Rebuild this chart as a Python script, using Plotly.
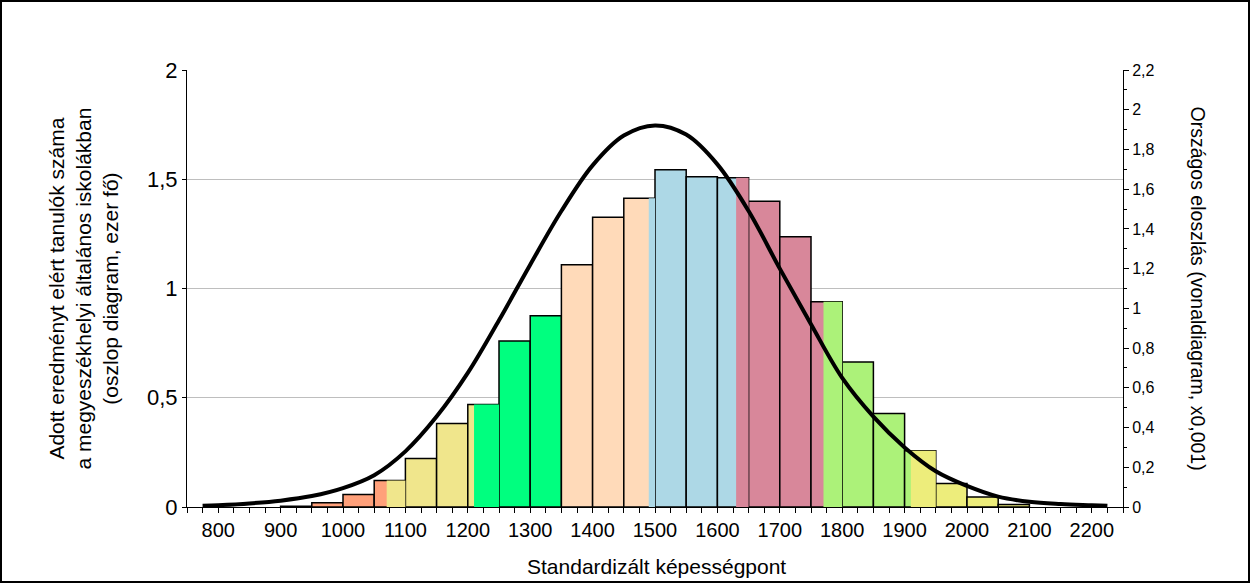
import plotly.graph_objects as go

# 50 pontos sávok bal széle és a tanulók száma (ezer fő)
sav_kezdet = [900, 950, 1000, 1050, 1100, 1150, 1200, 1250, 1300, 1350, 1400, 1450,
              1500, 1550, 1600, 1650, 1700, 1750, 1800, 1850, 1900, 1950, 2000, 2050]
tanulok = [0.004, 0.020, 0.057, 0.121, 0.222, 0.382, 0.469, 0.760, 0.875, 1.109, 1.326, 1.413,
           1.544, 1.512, 1.507, 1.399, 1.237, 0.939, 0.664, 0.428, 0.257, 0.107, 0.046, 0.011]
sav_szel = 50

# képességszintek határai
szint_hatar = [1070, 1210, 1350, 1490, 1630, 1770, 1910]

# országos eloszlás (x0,001)
eloszlas_x = [775, 800, 850, 900, 950, 1000, 1050, 1100, 1150, 1200, 1250, 1300, 1350, 1400,
              1450, 1500, 1550, 1600, 1650, 1700, 1750, 1800, 1850, 1900, 1950, 2000, 2050,
              2100, 2150, 2200, 2225]
eloszlas_y = [0.006, 0.009, 0.018, 0.032, 0.055, 0.095, 0.160, 0.280, 0.455, 0.675, 0.940,
              1.220, 1.490, 1.720, 1.870, 1.921, 1.875, 1.725, 1.490, 1.200, 0.920, 0.650,
              0.455, 0.300, 0.180, 0.106, 0.052, 0.026, 0.015, 0.009, 0.006]

# szintek színei
szint_szin = ["#FFA07A", "#F0E68C", "#00FF7F", "#FFDAB9", "#ADD8E6", "#D8879A", "#ACF279", "#EDED7B"]

FONT = "Arial, 'Liberation Sans', sans-serif"

# === oszlopok ===
bal_szin = []
resz_x, resz_y, resz_w, resz_szin = [], [], [], []
for s, h in zip(sav_kezdet, tanulok):
    szint = sum(1 for b in szint_hatar if b <= s)
    bal_szin.append(szint_szin[szint])
    for b in szint_hatar:
        if s < b < s + sav_szel:
            resz_x.append((b + s + sav_szel) / 2)
            resz_w.append(s + sav_szel - b)
            resz_y.append(h)
            resz_szin.append(szint_szin[szint + 1])

fig = go.Figure()
fig.add_trace(go.Bar(
    x=[s + sav_szel / 2 for s in sav_kezdet], y=tanulok, width=sav_szel,
    marker=dict(color=bal_szin, line=dict(color="black", width=1.5)),
    hoverinfo="skip", showlegend=False))
fig.add_trace(go.Bar(
    x=resz_x, y=resz_y, width=resz_w,
    marker=dict(color=resz_szin, line=dict(width=0)),
    hoverinfo="skip", showlegend=False))

# === eloszlás görbe ===
fig.add_trace(go.Scatter(
    x=eloszlas_x, y=eloszlas_y, yaxis="y2", mode="lines",
    line=dict(color="black", width=4, shape="spline", smoothing=1),
    hoverinfo="skip", showlegend=False))

W, H = 1250, 583
ml, mr, mt, mb = 187, 127, 70, 76
pw, ph = W - ml - mr, H - mt - mb

fig.update_layout(
    width=W, height=H,
    margin=dict(l=ml, r=mr, t=mt, b=mb),
    paper_bgcolor="white", plot_bgcolor="white",
    barmode="overlay",
    separators=", ",
    font=dict(family=FONT, color="black"),
    xaxis=dict(
        range=[750, 2250], tick0=800, dtick=100,
        ticks="outside", ticklen=5, tickcolor="black",
        showline=True, linecolor="black", linewidth=1,
        showgrid=False, zeroline=False,
        tickfont=dict(size=20),
        minor=dict(tick0=750, dtick=25, ticks="outside", ticklen=5, tickcolor="black"),
    ),
    yaxis=dict(
        range=[0, 2], dtick=0.5,
        ticks="outside", ticklen=4, tickcolor="black",
        showline=True, linecolor="black", linewidth=1,
        showgrid=True, gridcolor="#BEBEBE", gridwidth=1, zeroline=False,
        tickfont=dict(size=22),
    ),
    yaxis2=dict(
        range=[0, 2.2], dtick=0.2, overlaying="y", side="right",
        ticks="outside", ticklen=5, tickcolor="black",
        showline=True, linecolor="black", linewidth=1,
        showgrid=False, zeroline=False,
        tickfont=dict(size=16),
        minor=dict(dtick=0.1, ticks="outside", ticklen=3, tickcolor="black"),
    ),
    annotations=[
        dict(text="Adott eredményt elért tanulók száma<br>a megyeszékhelyi általános iskolákban<br>(oszlop diagram, ezer fő)",
             xref="paper", yref="paper", x=(83 - ml) / pw, y=0.5, textangle=-90,
             xanchor="center", yanchor="middle", showarrow=False, font=dict(size=21)),
        dict(text="Országos eloszlás (vonaldiagram, x0,001)",
             xref="paper", yref="paper", x=(1198 - ml) / pw, y=0.5, textangle=90,
             xanchor="center", yanchor="middle", showarrow=False, font=dict(size=19.5)),
        dict(text="Standardizált képességpont",
             xref="paper", yref="paper", x=(656 - ml) / pw, y=(H - mb - 566) / ph,
             xanchor="center", yanchor="middle", showarrow=False, font=dict(size=21)),
    ],
    shapes=[dict(type="rect", xref="paper", yref="paper",
                 x0=(1 - ml) / pw, x1=1 + (mr - 1) / pw,
                 y0=-(mb - 1) / ph, y1=1 + (mt - 1) / ph,
                 line=dict(color="black", width=2))],
)

fig.write_html("out.html", config={"displayModeBar": False},
               post_script="document.body.style.margin='0';")
